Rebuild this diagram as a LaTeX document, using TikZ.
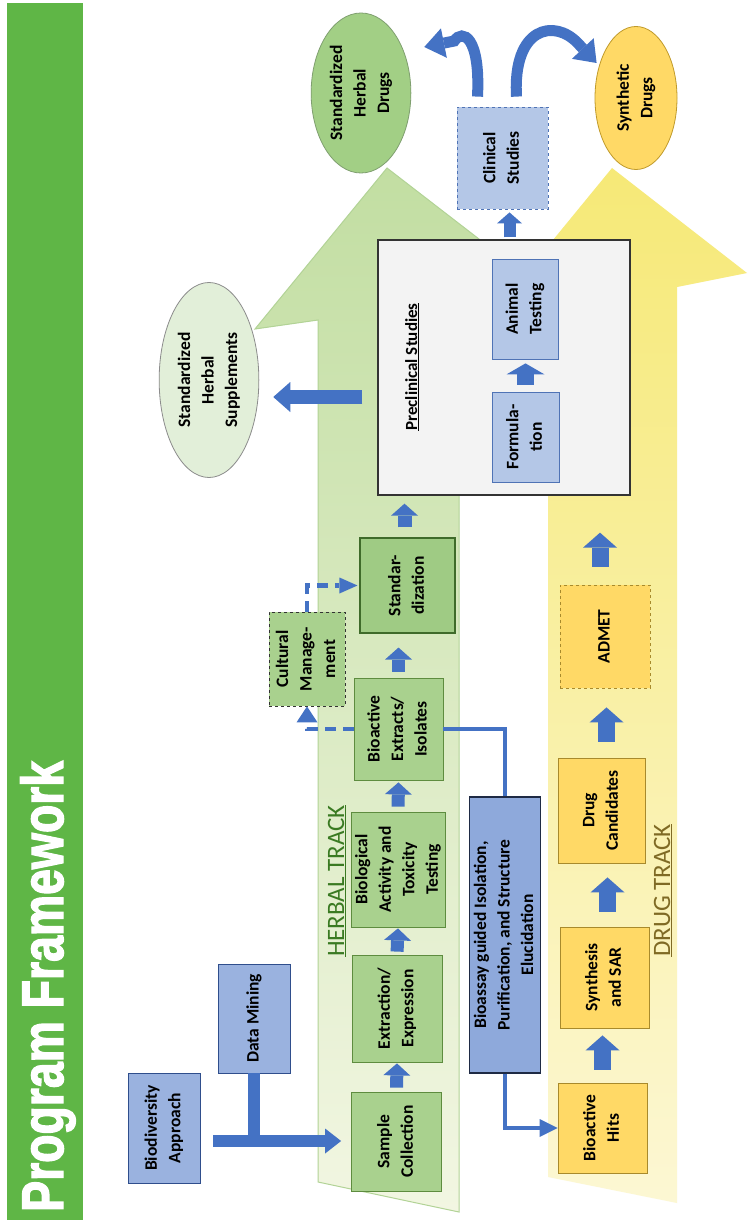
\documentclass[tikz,border=0pt]{standalone}
\usepackage{fontspec}
\setmainfont{Carlito}
\newfontfamily\titlefont{Liberation Sans}[BoldFeatures={FakeBold=2.5}]
\usetikzlibrary{arrows.meta,shapes.geometric,calc}
\definecolor{arrowblue}{HTML}{4472C4}
\definecolor{titlegreen}{HTML}{5FB646}
\definecolor{hfill}{HTML}{A9D18E}
\definecolor{hborder}{HTML}{5E8C3F}
\definecolor{sfill}{HTML}{9FCB84}
\definecolor{sborder}{HTML}{3F6B2A}
\definecolor{dfill}{HTML}{FFD966}
\definecolor{dborder}{HTML}{A88A2C}
\definecolor{bfill}{HTML}{9AB2DF}
\definecolor{bborder}{HTML}{2F4E8C}
\definecolor{bafill}{HTML}{8EA9DB}
\definecolor{baborder}{HTML}{1E2A44}
\definecolor{lbfill}{HTML}{B4C7E7}
\definecolor{lbborder}{HTML}{4F73B5}
\definecolor{prefill}{HTML}{F3F3F3}
\definecolor{preborder}{HTML}{333333}
\definecolor{suppfill}{HTML}{E2EFD9}
\definecolor{suppborder}{HTML}{8C8C8C}
\definecolor{hdfill}{HTML}{A2CF85}
\definecolor{hdborder}{HTML}{7F9F6F}
\definecolor{sdborder}{HTML}{C09A2A}
\definecolor{herbaltext}{HTML}{3A7A22}
\definecolor{drugtext}{HTML}{7F6A24}
\definecolor{htop}{HTML}{C2DEA2}
\definecolor{hbot}{HTML}{F2F6E2}
\definecolor{hedge}{HTML}{B2D396}
\definecolor{ytop}{HTML}{F6E977}
\definecolor{ybot}{HTML}{FCF7D3}
\newcommand{\rtxt}[1]{\rotatebox{90}{\begin{tabular}{@{}c@{}}#1\end{tabular}}}
\begin{document}
\begin{tikzpicture}[x=1pt,y=-1pt,
  box/.style={rectangle, inner sep=0pt, line width=0.8pt, font=\fontsize{17.5}{23.5}\selectfont\bfseries},
  hbox/.style={box, fill=hfill, draw=hborder},
  dbox/.style={box, fill=dfill, draw=dborder},
  bbox/.style={box, fill=bfill, draw=bborder},
  lbbox/.style={box, fill=lbfill, draw=lbborder},
  ell/.style={ellipse, inner sep=0pt, line width=0.8pt, font=\fontsize{17.5}{23.5}\selectfont\bfseries},
  sblk/.style={arrowblue, line width=13pt, -{Triangle[length=12pt,width=27pt,line width=0pt]}},
  dblk/.style={arrowblue, line width=17pt, -{Triangle[length=15pt,width=34pt,line width=0pt]}},
  fblk/.style={arrowblue, line width=17pt, -{Triangle[length=11pt,width=38pt,line width=0pt]}},
  conn/.style={arrowblue, line width=4.5pt},
  connarrow/.style={conn, -{Triangle[length=18pt,width=18pt,line width=0pt]}},
  dashconn/.style={arrowblue, line width=4.5pt, dash pattern=on 11pt off 7pt},
  bar/.style={arrowblue, line width=12pt},
  curvearrow/.style={arrowblue, line width=11pt, -{Triangle[length=20pt,width=30pt,line width=0pt]}},
  tracklabel/.style={rotate=90, anchor=base west, inner sep=0pt, font=\fontsize{25}{28}\selectfont}
]
\useasboundingbox (0,0) rectangle (751,1222);
\fill[white] (0,0) rectangle (751,1222);

% title band
\fill[titlegreen] (7,3) rectangle (83,1220);
\node[rotate=90, anchor=base west, inner sep=0pt, text=white] (title) at (63,1212)
  {\scalebox{0.79}[1]{\titlefont\bfseries\fontsize{58.7}{60}\selectfont Program Framework}};

% track arrows
\draw[draw=hedge, line width=1pt, top color=htop, bottom color=hbot]
  (318,1182) -- (318,320) -- (255,329) -- (387,168) -- (545,290) -- (459,300) -- (459,1212) -- cycle;
\shade[top color=ytop, bottom color=ybot]
  (548,1177) -- (548,295) -- (512,290) -- (612,168) -- (747,273) -- (677,287) -- (677,1203) -- cycle;

\node[tracklabel, text=herbaltext] (herballabel) at (344,957) {\underline{HERBAL TRACK}};
\node[tracklabel, text=drugtext] (druglabel) at (670,957) {\underline{DRUG TRACK}};

% left inputs
\node[bbox, minimum width=72pt, minimum height=110pt] (biodiv) at (164,1128) {\rtxt{Biodiversity\\Approach}};
\node[bbox, minimum width=72pt, minimum height=109pt] (datamining) at (254,1018.5) {\rtxt{Data Mining}};

% herbal track boxes
\node[hbox, minimum width=90pt, minimum height=99pt] (sample) at (396.5,1141.5) {\rtxt{Sample\\Collection}};
\node[hbox, minimum width=90pt, minimum height=107pt] (extract) at (397,1008.5) {\rtxt{Extraction/\\Expression}};
\node[hbox, minimum width=90pt, minimum height=115pt] (bio) at (398,869.5) {\rtxt{Biological\\Activity and\\Toxicity\\Testing}};
\node[hbox, minimum width=89pt, minimum height=102pt] (bioact) at (398.5,729) {\rtxt{Bioactive\\Extracts/\\Isolates}};
\node[box, fill=sfill, draw=sborder, line width=1.1pt, minimum width=95pt, minimum height=95pt] (stand) at (407.5,585.5) {\rtxt{Standar-\\dization}};
\node[box, fill=hfill, draw=preborder, dashed, minimum width=76pt, minimum height=94pt] (cultural) at (307,659) {\rtxt{Cultural\\Manage-\\ment}};

% bioassay
\node[box, fill=bafill, draw=baborder, line width=1.1pt, minimum width=64pt, minimum height=276pt] (bioassay) at (505,935)
  {\rtxt{Bioassay guided Isolation,\\Purification, and Structure\\Elucidation}};

% drug track boxes
\node[dbox, minimum width=89pt, minimum height=90pt] (hits) at (602.5,1128) {\rtxt{Bioactive\\Hits}};
\node[dbox, minimum width=89pt, minimum height=101pt] (synth) at (604.5,977.5) {\rtxt{Synthesis\\and SAR}};
\node[dbox, minimum width=87pt, minimum height=105pt] (cand) at (601.5,810.5) {\rtxt{Drug\\Candidates}};
\node[dbox, dashed, minimum width=90pt, minimum height=103pt] (admet) at (605,636.5) {\rtxt{ADMET}};

% preclinical
\node[box, fill=prefill, draw=preborder, line width=1.3pt, minimum width=252pt, minimum height=255pt] (preclinical) at (504,367.5) {};
\node[rotate=90, anchor=base, inner sep=0pt, font=\fontsize{17}{20}\selectfont\bfseries] (prelabel) at (417,367) {\underline{Preclinical Studies}};
\node[lbbox, minimum width=67pt, minimum height=90pt] (formulation) at (525.5,437) {\rtxt{Formula-\\tion}};
\node[lbbox, minimum width=66pt, minimum height=100pt] (animal) at (525,309) {\rtxt{Animal\\Testing}};
\node[lbbox, dashed, minimum width=91pt, minimum height=102pt] (clinical) at (502.5,158) {\rtxt{Clinical\\Studies}};

% outcomes
\node[ell, fill=suppfill, draw=suppborder, minimum width=95pt, minimum height=195pt] (supp) at (209,380) {\rtxt{Standardized\\Herbal\\Supplements}};
\node[ell, fill=hdfill, draw=hdborder, minimum width=78pt, minimum height=160pt] (hd) at (361,93) {\rtxt{Standardized\\Herbal\\Drugs}};
\node[ell, fill=dfill, draw=sdborder, minimum width=82pt, minimum height=143pt] (sd) at (636,98) {\rtxt{Synthetic\\Drugs}};

% input connectors
\coordinate (j) at (254,1141);
\draw[bar] (datamining.south) -- (datamining.south |- j);
\draw[bar, -{Triangle[length=16pt,width=25pt,line width=0pt]}] ($(biodiv.east |- j)+(13,0)$) -- ($(sample.west |- j)+(-10,0)$);

% herbal chain
\draw[sblk, shorten <=4pt, shorten >=1pt] (sample.north) -- (extract.south);
\draw[sblk, shorten <=3pt, shorten >=1pt] (extract.north) -- (bio.south);
\draw[sblk, shorten <=5pt, shorten >=2pt] (bio.north) -- (bioact.south);
\draw[sblk, shorten <=6pt, shorten >=14pt] (bioact.north) -- (bioact.north |- stand.south);
\draw[sblk, line width=14pt, shorten <=10pt, shorten >=8pt] ($(stand.north)+(-3,0)$) -- ($(stand.north |- preclinical.south)+(-3,0)$);

% cultural management dashed
\draw[dashconn, -{Triangle[length=16pt,width=21pt,line width=0pt]}] (bioact.west) -- (cultural.south |- bioact.west) -- (cultural.south);
\draw[dashconn, -{Triangle[length=18pt,width=16pt,line width=0pt]}] (cultural.north) -- (cultural.north |- stand.west) -- ($(stand.west)+(-2,0)$);

% bioassay route
\draw[conn] (bioact.east) -- (bioassay.north |- bioact.east) -- (bioassay.north);
\draw[connarrow] (bioassay.south) -- (bioassay.south |- hits.west) -- (hits.west);

% drug chain
\draw[dblk, shorten <=13pt, shorten >=7pt] (hits.north) -- (hits.north |- synth.south);
\draw[dblk, shorten <=15pt, shorten >=14pt] ($(synth.north)+(3,0)$) -- ($(synth.north |- cand.south)+(3,0)$);
\draw[dblk, shorten <=16pt, shorten >=19pt] ($(cand.north)+(5,0)$) -- ($(cand.north |- admet.south)+(5,0)$);
\draw[dblk, shorten <=18pt, shorten >=37pt] ($(admet.north)+(-5,0)$) -- ($(admet.north |- preclinical.south)+(-5,0)$);

% preclinical internals and outputs
\draw[fblk, shorten <=7pt, shorten >=4pt] (formulation.north) -- (formulation.north |- animal.south);
\draw[sblk, line width=12pt, -{Triangle[length=11pt,width=25pt,line width=0pt]}, shorten <=2pt, shorten >=3pt] ($(preclinical.north -| clinical.south)+(7,0)$) -- ($(clinical.south)+(7,0)$);
\coordinate (sa) at (0,397);
\draw[arrowblue, line width=14pt, -{Triangle[length=17pt,width=30pt,line width=0pt]}, shorten <=15pt, shorten >=14pt] (preclinical.west |- sa) -- (supp.east |- sa);

% curved arrows from clinical studies
\coordinate (la) at ($(hd.east)+(13,-46)$);
\coordinate (ra) at ($(sd.west)+(2,-35)$);
\draw[curvearrow] ($(clinical.north)+(-25,-10)$) .. controls ($(clinical.north)+(-22,-70)$) and ($(clinical.north)+(-40,-78)$) .. ($(la)+(30,-6)$) -- (la);
\draw[curvearrow] ($(clinical.north)+(14,-10)$) .. controls ($(clinical.north)+(10,-80)$) and ($(clinical.north)+(52,-88)$) .. ($(ra)+(-19,-20)$) -- (ra);
\end{tikzpicture}
\end{document}
